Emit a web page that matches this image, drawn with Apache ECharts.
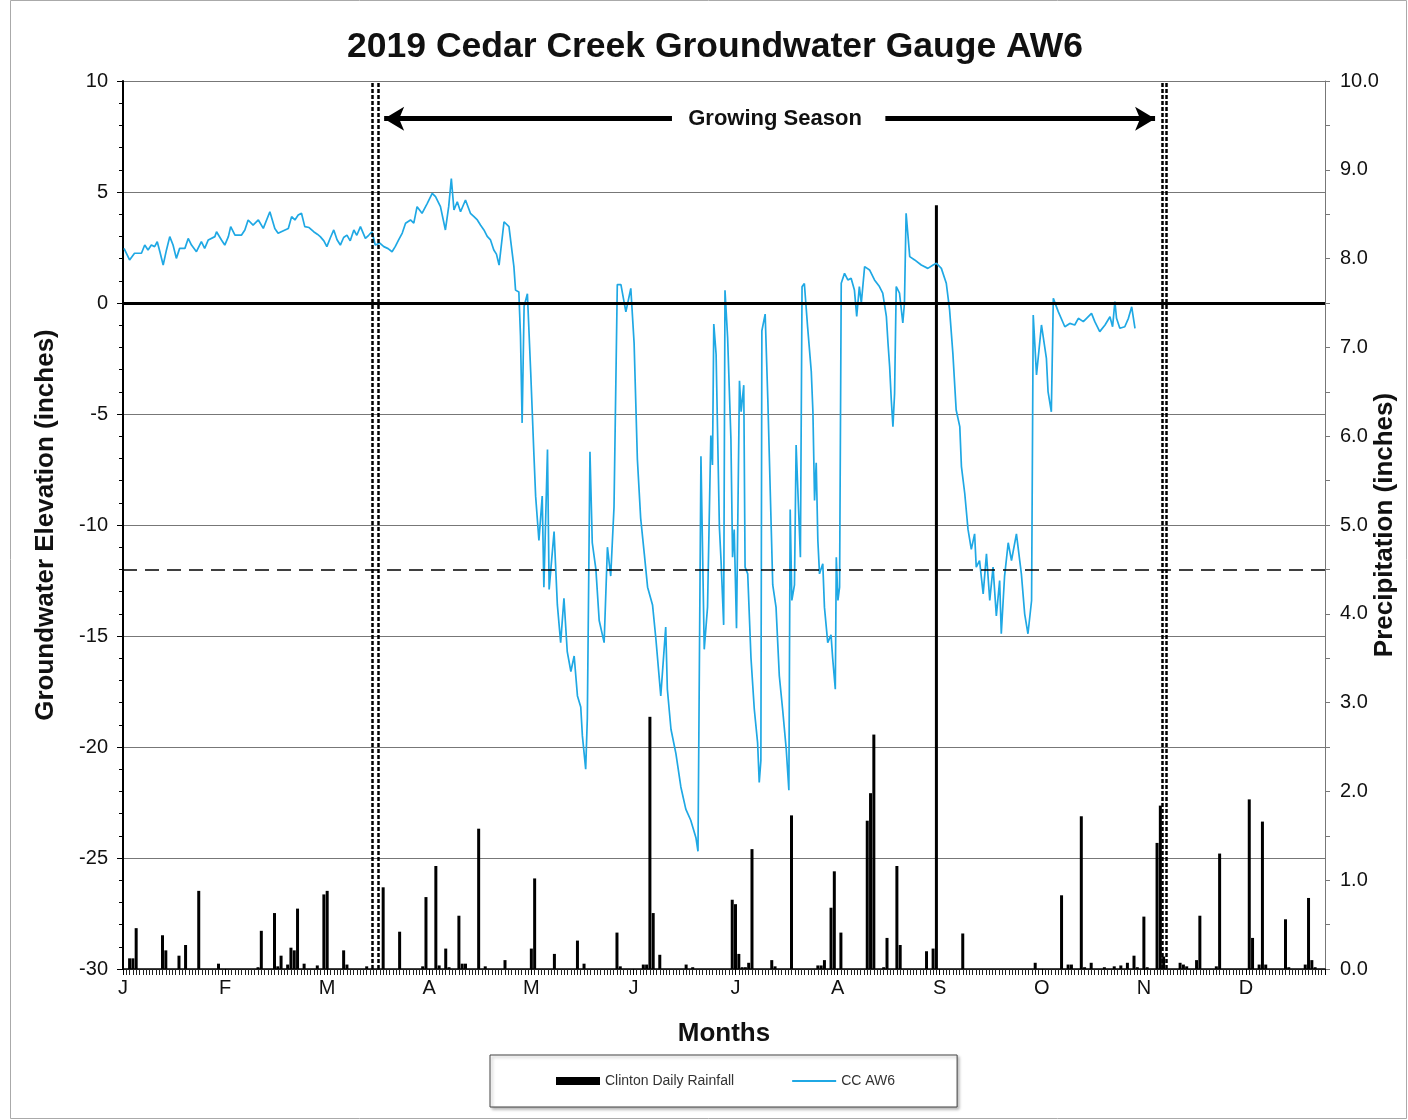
<!DOCTYPE html>
<html>
<head>
<meta charset="utf-8">
<title>2019 Cedar Creek Groundwater Gauge AW6</title>
<script src="https://cdn.jsdelivr.net/npm/echarts@6/dist/echarts.min.js"></script>
<style>
  html, body { margin: 0; padding: 0; background: #fff; }
  #chart { width: 1408px; height: 1120px; }
</style>
</head>
<body>
<div id="chart"></div>
<script>
// month letters, one every 31 days on the day axis
const monthLetters = ['J', 'F', 'M', 'A', 'M', 'J', 'J', 'A', 'S', 'O', 'N', 'D'];

// CC AW6 groundwater level [day of year, inches]
const aw6Level = [
  [0.3,2.46],[2.0,1.94],[3.5,2.24],[5.6,2.24],[6.6,2.61],[7.6,2.39],[8.6,2.61],[9.6,2.54],[10.4,2.76],[11.2,2.31],
  [12.2,1.71],[13.2,2.39],[14.2,2.99],[15.2,2.61],[16.2,2.01],[17.2,2.46],[18.8,2.46],[19.8,2.91],[20.8,2.61],[22.3,2.31],
  [23.8,2.76],[24.8,2.46],[25.9,2.84],[27.9,2.99],[28.4,3.21],[29.9,2.84],[30.9,2.61],[32.0,2.99],[32.7,3.44],[34.0,3.06],
  [36.0,3.06],[37.0,3.29],[38.0,3.74],[39.5,3.51],[41.1,3.74],[42.6,3.36],[44.6,4.11],[46.1,3.36],[47.1,3.14],[49.2,3.29],
  [50.2,3.36],[51.2,3.89],[52.2,3.74],[53.2,3.96],[54.2,4.04],[55.2,3.44],[56.5,3.40],[57.9,3.21],[59.0,3.10],[59.9,2.99],
  [61.0,2.80],[61.9,2.54],[63.0,2.95],[64.0,3.29],[65.0,2.85],[66.0,2.61],[67.0,2.95],[68.0,3.06],[69.0,2.80],[70.1,3.29],
  [71.0,3.05],[72.1,3.44],[73.6,2.91],[74.6,3.05],[75.6,3.21],[76.6,2.61],[78.0,2.70],[79.2,2.54],[80.5,2.45],[81.7,2.31],
  [82.7,2.55],[83.7,2.84],[84.8,3.15],[85.8,3.59],[87.3,3.74],[88.3,3.60],[89.3,4.34],[90.8,4.04],[92.4,4.49],[93.9,4.94],
  [94.9,4.79],[96.4,4.34],[97.9,3.29],[98.9,4.34],[99.7,5.61],[100.5,4.19],[101.5,4.56],[102.5,4.11],[104.0,4.64],[105.5,4.04],
  [106.5,3.90],[107.6,3.74],[108.6,3.50],[109.6,3.29],[110.6,3.00],[111.6,2.84],[112.6,2.39],[113.4,2.20],[114.2,1.71],[115.7,3.66],
  [117.2,3.44],[118.7,1.64],[119.2,0.58],[120.2,0.5],[120.7,-1.47],[121.2,-5.4],[121.8,-0.15],[122.8,0.42],[123.8,-3.1],[124.8,-6.9],
  [125.3,-8.7],[126.3,-10.7],[127.3,-8.7],[127.8,-12.8],[128.9,-6.6],[129.4,-12.9],[130.9,-10.3],[131.9,-13.6],[132.9,-15.3],[133.9,-13.3],
  [134.9,-15.7],[136.0,-16.6],[137.0,-15.9],[138.0,-17.7],[139.0,-18.2],[139.5,-19.5],[140.5,-21.0],[141.0,-18.7],[141.8,-6.7],[142.5,-10.8],
  [143.6,-12.0],[144.6,-14.3],[146.1,-15.3],[147.1,-11.0],[148.1,-12.3],[149.1,-9.2],[150.1,0.83],[151.2,0.83],[152.7,-0.4],[154.2,0.66],
  [155.2,-1.8],[156.2,-7.05],[157.2,-9.7],[158.3,-11.3],[159.3,-12.8],[160.8,-13.6],[161.8,-15.1],[163.3,-17.7],[164.8,-14.6],[165.3,-17.4],
  [166.4,-19.2],[167.9,-20.3],[169.4,-21.8],[170.9,-22.8],[172.4,-23.3],[174.0,-24.1],[174.6,-24.7],[175.5,-6.9],[176.5,-15.6],[177.5,-13.7],
  [178.5,-5.97],[179.0,-7.3],[179.4,-0.95],[180.1,-2.3],[181.1,-10.1],[181.6,-11.6],[182.4,-14.5],[182.8,0.57],[183.6,-1.56],[184.6,-6.1],
  [185.1,-11.45],[185.6,-10.2],[186.3,-14.65],[187.2,-3.5],[187.7,-4.9],[188.5,-3.7],[188.9,-11.9],[189.7,-12.2],[190.7,-16.0],[191.7,-18.3],
  [192.7,-19.8],[193.2,-21.6],[193.7,-20.6],[194.0,-1.25],[195.0,-0.5],[195.8,-4.3],[196.8,-9.9],[197.3,-12.7],[198.3,-13.7],[199.3,-16.8],
  [200.3,-18.3],[201.4,-20.1],[202.2,-21.95],[202.6,-9.3],[203.1,-13.4],[203.9,-12.7],[204.4,-6.4],[204.9,-6.4],[205.7,-11.45],[206.2,0.73],
  [206.9,0.88],[207.9,-1.1],[209.0,-3.08],[209.5,-4.9],[210.0,-8.9],[210.5,-7.2],[211.0,-10.7],[211.5,-12.2],[212.5,-11.75],[213.0,-13.7],
  [214.0,-15.3],[215.0,-14.95],[215.5,-16.0],[216.3,-17.4],[216.6,-11.45],[217.1,-13.4],[217.6,-12.8],[218.1,0.89],[219.1,1.34],[220.1,1.04],
  [221.1,1.11],[222.1,0.59],[222.8,-0.6],[223.6,0.74],[224.2,0],[225.2,1.64],[226.7,1.49],[228.2,1.04],[229.7,0.74],[230.7,0.44],
  [231.8,-0.6],[232.3,-1.8],[232.8,-2.87],[233.3,-4.37],[233.8,-5.57],[234.3,-4.07],[234.8,0.74],[235.8,0.44],[236.8,-0.9],[237.3,0],
  [237.8,4.04],[238.9,2.09],[240.4,1.94],[242.4,1.71],[244.4,1.56],[246.0,1.71],[247.0,1.79],[248.5,1.56],[250.0,0.89],[251.0,-0.3],
  [252.0,-2.27],[253.0,-4.82],[254.1,-5.57],[254.6,-7.37],[255.6,-8.57],[256.6,-10.2],[257.6,-11.1],[258.6,-10.4],[259.1,-11.9],[260.1,-11.6],
  [261.2,-13.1],[262.2,-11.3],[263.2,-13.4],[264.2,-11.9],[265.2,-14.1],[266.2,-12.5],[266.7,-14.9],[267.7,-12.3],[268.8,-10.8],[269.8,-11.6],
  [271.3,-10.4],[272.8,-12.2],[273.8,-14.0],[274.8,-14.9],[275.9,-13.4],[276.4,-0.54],[277.4,-3.24],[278.9,-0.99],[280.4,-2.49],[280.9,-3.99],
  [281.9,-4.9],[282.5,0.21],[284.0,-0.39],[286.0,-1.07],[287.5,-0.92],[289.0,-0.99],[290.1,-0.69],[291.6,-0.84],[292.6,-0.69],[294.1,-0.47],
  [295.1,-0.84],[296.6,-1.29],[298.2,-0.99],[299.7,-0.62],[300.5,-1.07],[301.2,0.06],[301.7,-0.69],[302.7,-1.14],[304.2,-1.07],[305.3,-0.69],
  [306.3,-0.17],[307.3,-1.14]
];

// Clinton daily rainfall [day of year, inches]
const clintonRain = [
  [2,0.12],[3,0.12],[4,0.46],[12,0.38],[13,0.21],[17,0.15],[19,0.27],[23,0.88],[29,0.06],[41,0.02],
  [42,0.43],[46,0.63],[47,0.03],[48,0.15],[50,0.05],[51,0.24],[52,0.21],[53,0.68],[55,0.06],[59,0.04],
  [61,0.84],[62,0.88],[67,0.21],[68,0.05],[74,0.03],[79,0.92],[84,0.42],[91,0.03],[92,0.81],[95,1.16],
  [96,0.04],[98,0.23],[99,0.02],[102,0.6],[103,0.06],[104,0.06],[108,1.58],[110,0.03],[116,0.1],[124,0.23],
  [125,1.02],[131,0.17],[138,0.32],[140,0.06],[150,0.41],[151,0.03],[158,0.05],[159,0.05],[160,2.84],[161,0.63],
  [163,0.16],[171,0.05],[173,0.02],[185,0.78],[186,0.73],[187,0.17],[188,0.02],[189,0.02],[190,0.07],[191,1.35],
  [197,0.1],[198,0.03],[203,1.73],[211,0.04],[212,0.04],[213,0.1],[215,0.69],[216,1.1],[218,0.41],[226,1.67],
  [227,1.98],[228,2.64],[231,0.02],[232,0.35],[235,1.16],[236,0.27],[244,0.2],[246,0.23],[247,8.6],[255,0.4],
  [277,0.07],[285,0.83],[287,0.05],[288,0.05],[291,1.72],[292,0.02],[294,0.07],[298,0.02],[301,0.03],[303,0.04],
  [305,0.07],[307,0.15],[308,0.02],[310,0.59],[311,0.02],[314,1.42],[315,1.84],[316,0.14],[321,0.07],[322,0.05],
  [323,0.03],[326,0.1],[327,0.6],[332,0.03],[333,1.3],[342,1.91],[343,0.35],[345,0.05],[346,1.66],[347,0.05],
  [353,0.56],[354,0.02],[359,0.05],[360,0.8],[361,0.1],[362,0.02]
];

// growing season bounds (day of year) and the -12 in. reference
const growingStart = [75.6, 77.6];
const growingEnd = [315.6, 316.9];
const thresholdLevel = -12;

const font = "'Liberation Sans', Arial, sans-serif";
const chart = echarts.init(document.getElementById('chart'));

const seasonLine = { color: '#000', width: 2.5, type: [4, 2] };
const arrowStyle = { color: '#000', width: 5, type: 'solid' };

const option = {
  animation: false,
  textStyle: { fontFamily: font },
  title: {
    text: '2019 Cedar Creek Groundwater Gauge AW6',
    left: 710,
    textAlign: 'center',
    top: 24,
    textStyle: { fontSize: 35.5, fontWeight: 'bold', color: '#111', fontFamily: font }
  },
  graphic: [{
    type: 'rect',
    shape: { x: 10.5, y: 0.5, width: 1396, height: 1118 },
    style: { fill: 'none', stroke: '#aaa', lineWidth: 1 },
    silent: true
  }],
  legend: {
    left: 490,
    top: 1055,
    padding: [19, 62, 19, 66],
    itemWidth: 44,
    itemHeight: 8,
    itemGap: 58,
    borderColor: '#444',
    borderWidth: 1,
    backgroundColor: '#fff',
    shadowColor: 'rgba(0,0,0,0.3)',
    shadowBlur: 3,
    shadowOffsetX: 2,
    shadowOffsetY: 2,
    textStyle: { fontSize: 14, color: '#333', fontFamily: font },
    data: [
      { name: 'Clinton Daily Rainfall', icon: 'rect' },
      { name: 'CC AW6', icon: 'path://M0,0H44V1.8H0Z' }
    ]
  },
  grid: { left: 123, right: 83, top: 81, bottom: 151, outerBoundsMode: 'none' },
  xAxis: {
    type: 'value',
    min: 0,
    max: 365,
    interval: 31,
    name: 'Months',
    nameLocation: 'middle',
    nameGap: 52,
    nameTextStyle: { fontSize: 26, fontWeight: 'bold', color: '#111' },
    axisLine: { onZero: false, lineStyle: { color: '#000', width: 1.5 } },
    axisTick: { length: 6, lineStyle: { color: '#000' } },
    minorTick: { show: true, splitNumber: 31, length: 6, lineStyle: { color: '#222' } },
    splitLine: { show: false },
    axisLabel: {
      fontSize: 20,
      color: '#111',
      margin: 9,
      showMinLabel: true,
      formatter: v => (v % 31 === 0 ? monthLetters[v / 31] : '')
    }
  },
  yAxis: [
    {
      type: 'value',
      min: -30,
      max: 10,
      interval: 5,
      name: 'Groundwater Elevation (inches)',
      nameLocation: 'middle',
      nameRotate: 90,
      nameGap: 64,
      nameMoveOverlap: false,
      nameTextStyle: { fontSize: 26, fontWeight: 'bold', color: '#111' },
      axisLine: { show: true, lineStyle: { color: '#000', width: 2 } },
      axisTick: { show: true, length: 6, lineStyle: { color: '#000' } },
      minorTick: { show: true, splitNumber: 5, length: 4, lineStyle: { color: '#000' } },
      splitLine: { show: true, lineStyle: { color: '#777', width: 1.2 } },
      axisLabel: { fontSize: 20, color: '#111', margin: 15 }
    },
    {
      type: 'value',
      min: 0,
      max: 10,
      interval: 1,
      position: 'right',
      name: 'Precipitation (inches)',
      nameLocation: 'middle',
      nameRotate: 90,
      nameGap: 47,
      nameMoveOverlap: false,
      nameTextStyle: { fontSize: 26, fontWeight: 'bold', color: '#111' },
      axisLine: { show: true, lineStyle: { color: '#777', width: 1 } },
      axisTick: { show: true, length: 5, lineStyle: { color: '#777' } },
      minorTick: { show: true, splitNumber: 2, length: 5, lineStyle: { color: '#777' } },
      splitLine: { show: false },
      axisLabel: { fontSize: 20, color: '#111', margin: 15, formatter: v => v.toFixed(1) }
    }
  ],
  series: [
    {
      name: 'Clinton Daily Rainfall',
      type: 'bar',
      yAxisIndex: 1,
      barWidth: 3,
      itemStyle: { color: '#000' },
      data: clintonRain,
      z: 2
    },
    {
      name: 'CC AW6',
      type: 'line',
      yAxisIndex: 0,
      symbol: 'none',
      color: '#1fa8e4',
      lineStyle: { color: '#1fa8e4', width: 1.7 },
      data: aw6Level,
      z: 3,
      markLine: {
        silent: true,
        symbol: 'none',
        label: { show: false },
        data: [
          { yAxis: 0, lineStyle: { color: '#000', width: 3, type: 'solid' } },
          { yAxis: thresholdLevel, lineStyle: { color: '#000', width: 1.5, type: [14, 8] } },
          { xAxis: growingStart[0], lineStyle: seasonLine },
          { xAxis: growingStart[1], lineStyle: seasonLine },
          { xAxis: growingEnd[0], lineStyle: seasonLine },
          { xAxis: growingEnd[1], lineStyle: seasonLine },
          [
            { coord: [79.3, 8.3], symbol: 'arrow', symbolSize: [18, 20], lineStyle: arrowStyle },
            { coord: [166.7, 8.3], symbol: 'none' }
          ],
          [
            { coord: [231.5, 8.3], symbol: 'none', lineStyle: arrowStyle },
            { coord: [313.4, 8.3], symbol: 'arrow', symbolSize: [18, 20] }
          ]
        ]
      },
      markPoint: {
        silent: true,
        symbol: 'circle',
        symbolSize: 1,
        itemStyle: { color: 'rgba(0,0,0,0)' },
        label: {
          show: true,
          position: 'inside',
          formatter: 'Growing Season',
          fontSize: 22,
          fontWeight: 'bold',
          color: '#111'
        },
        data: [{ coord: [198.0, 8.3] }]
      }
    }
  ]
};

chart.setOption(option);
</script>
</body>
</html>
